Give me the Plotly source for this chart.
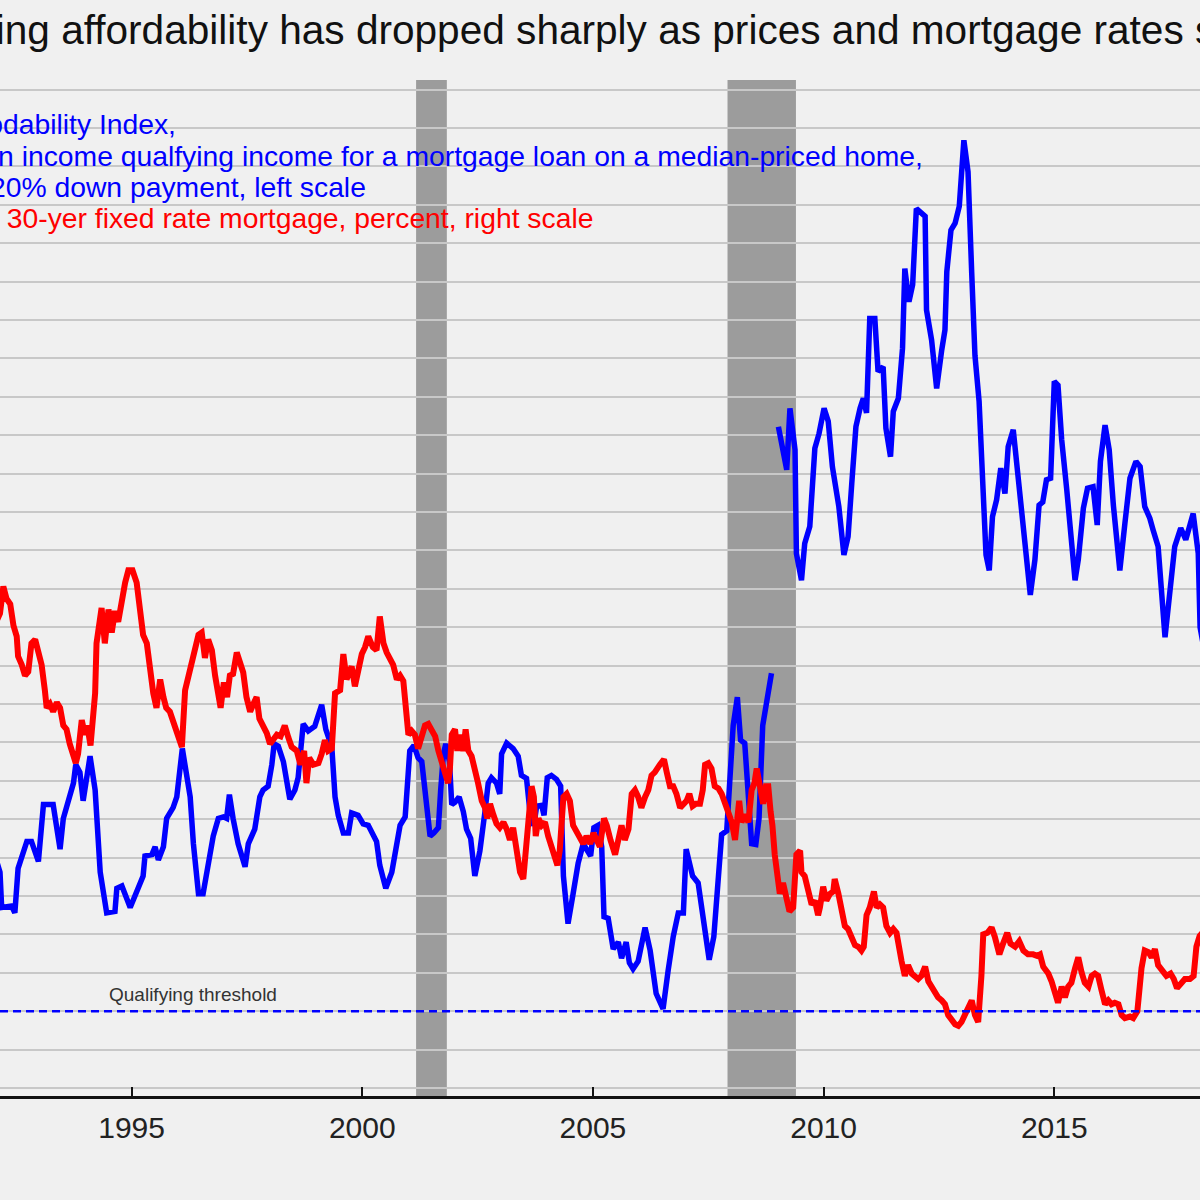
import plotly.graph_objects as go

# ---------------- data ----------------
# Housing affordability index (left scale); None marks the break in the series
afford_years = [
    1991.90, 1992.148, 1992.184, 1992.40, 1992.47, 1992.54, 1992.73, 1992.83, 1992.98, 1993.09,
    1993.30, 1993.45, 1993.52, 1993.66, 1993.74, 1993.79, 1993.88, 1993.95, 1994.10, 1994.21,
    1994.32, 1994.46, 1994.64, 1994.68, 1994.79, 1994.97, 1995.11, 1995.25, 1995.29, 1995.44,
    1995.51, 1995.58, 1995.69, 1995.76, 1995.90, 1995.98, 1996.10, 1996.27, 1996.34, 1996.45,
    1996.55, 1996.66, 1996.77, 1996.88, 1996.99, 1997.06, 1997.12, 1997.20, 1997.31, 1997.46,
    1997.53, 1997.67, 1997.78, 1997.85, 1997.96, 1998.04, 1998.09, 1998.18, 1998.29, 1998.43,
    1998.54, 1998.61, 1998.72, 1998.83, 1998.97, 1999.12, 1999.21, 1999.34, 1999.41, 1999.48,
    1999.59, 1999.70, 1999.77, 1999.91, 2000.02, 2000.13, 2000.24, 2000.31, 2000.38, 2000.51,
    2000.64, 2000.75, 2000.82, 2000.93, 2000.98, 2001.03, 2001.12, 2001.21, 2001.29, 2001.38,
    2001.47, 2001.55, 2001.65, 2001.70, 2001.76, 2001.81, 2001.89, 2001.94, 2002.01, 2002.10,
    2002.19, 2002.26, 2002.35, 2002.44, 2002.55, 2002.66, 2002.73, 2002.80, 2002.91, 2002.98,
    2003.02, 2003.13, 2003.27, 2003.38, 2003.45, 2003.56, 2003.65, 2003.72, 2003.78, 2003.89,
    2003.94, 2004.01, 2004.10, 2004.21, 2004.30, 2004.36, 2004.46, 2004.57, 2004.68, 2004.79,
    2004.90, 2004.95, 2005.02, 2005.11, 2005.19, 2005.24, 2005.33, 2005.44, 2005.55, 2005.62,
    2005.72, 2005.79, 2005.87, 2005.98, 2006.13, 2006.24, 2006.37, 2006.52, 2006.63, 2006.74,
    2006.85, 2006.96, 2007.02, 2007.16, 2007.28, 2007.39, 2007.52, 2007.62, 2007.72, 2007.79,
    2007.90, 2007.99, 2008.04, 2008.13, 2008.20, 2008.29, 2008.37, 2008.44, 2008.53, 2008.60,
    2008.68, 2008.76, 2008.87, 2008.95,
    2009.02, 2009.20, 2009.27, 2009.38, 2009.41, 2009.52, 2009.59, 2009.70, 2009.81, 2009.90,
    2010.01, 2010.10, 2010.19, 2010.33, 2010.44, 2010.53, 2010.61, 2010.70, 2010.79, 2010.86,
    2010.93, 2011.00, 2011.11, 2011.18, 2011.29, 2011.35, 2011.45, 2011.51, 2011.62, 2011.71,
    2011.76, 2011.85, 2011.93, 2012.01, 2012.20, 2012.23, 2012.34, 2012.45, 2012.56, 2012.63,
    2012.67, 2012.76, 2012.85, 2012.94, 2013.04, 2013.13, 2013.21, 2013.28, 2013.37, 2013.45,
    2013.52, 2013.59, 2013.66, 2013.75, 2013.84, 2013.93, 2014.00, 2014.11, 2014.22, 2014.33,
    2014.40, 2014.48, 2014.58, 2014.67, 2014.75, 2014.83, 2014.92, 2015.00, 2015.08, 2015.16,
    2015.27, 2015.37, 2015.45, 2015.52, 2015.63, 2015.72, 2015.84, 2015.93, 2016.00, 2016.10,
    2016.19, 2016.28, 2016.35, 2016.42, 2016.53, 2016.64, 2016.77, 2016.86, 2016.96, 2017.07,
    2017.14, 2017.25, 2017.40, 2017.61, 2017.74, 2017.85, 2018.01, 2018.12, 2018.16, 2018.25,
]
afford_index = [
    123.0, 118.1, 113.5, 113.7, 112.8, 118.6, 122.1, 122.1, 119.5, 126.9,
    126.9, 121.1, 125.1, 127.9, 129.7, 132.1, 131.1, 127.4, 133.2, 128.8,
    118.1, 112.8, 113.0, 116.0, 116.3, 113.5, 115.5, 117.6, 120.2, 120.4,
    121.4, 119.7, 121.4, 125.1, 126.5, 127.9, 134.2, 127.9, 121.8, 115.3,
    115.3, 118.8, 122.8, 125.1, 125.3, 125.1, 128.2, 125.1, 121.8, 118.8,
    121.8, 123.7, 127.9, 128.8, 129.3, 132.1, 134.8, 134.5, 132.5, 127.6,
    128.8, 130.4, 137.4, 136.5, 137.1, 139.9, 136.7, 134.4, 127.9, 125.5,
    123.2, 123.2, 125.8, 125.5, 124.4, 124.2, 122.8, 122.1, 119.0, 116.0,
    118.1, 121.4, 124.2, 125.3, 128.8, 133.9, 134.6, 133.0, 132.5, 127.9,
    122.8, 123.2, 123.9, 128.8, 133.5, 134.8, 132.5, 126.9, 127.2, 127.9,
    126.0, 123.7, 122.5, 117.6, 120.9, 126.0, 129.7, 130.4, 129.7, 128.3,
    133.5, 134.9, 134.2, 133.2, 130.7, 130.3, 125.1, 124.2, 126.7, 126.8,
    125.5, 130.4, 130.7, 130.2, 129.3, 117.6, 111.4, 115.3, 119.3, 121.8,
    120.7, 120.2, 123.9, 124.2, 121.4, 112.3, 112.1, 108.1, 109.0, 106.9,
    109.0, 106.3, 105.5, 106.5, 110.9, 107.9, 102.3, 100.3, 105.3, 109.7,
    112.8, 112.8, 121.1, 117.6, 116.7, 112.5, 106.7, 109.7, 116.7, 123.0,
    123.5, 134.4, 137.2, 140.9, 135.3, 134.9, 127.9, 121.8, 121.7, 125.1,
    137.2, 140.4, 144.0, None,
    176.1, 170.5, 178.5, 173.1, 159.6, 156.1, 160.9, 163.1, 173.3, 175.2,
    178.5, 176.8, 170.9, 165.7, 159.4, 161.8, 168.7, 176.1, 178.5, 179.8,
    177.9, 190.2, 190.2, 183.3, 183.9, 175.9, 172.2, 178.1, 179.8, 186.3,
    196.7, 192.4, 194.6, 204.5, 203.5, 191.3, 187.4, 181.1, 186.1, 188.7,
    196.3, 201.7, 202.6, 204.8, 213.4, 209.3, 196.1, 185.4, 179.4, 166.8,
    159.4, 157.4, 164.4, 166.6, 170.7, 167.4, 173.5, 175.7, 169.6, 164.0,
    158.8, 154.2, 158.8, 165.9, 166.3, 169.2, 169.4, 182.0, 181.5, 174.4,
    167.9, 160.1, 156.1, 158.8, 165.5, 168.1, 168.3, 163.3, 171.6, 176.3,
    173.1, 165.9, 161.4, 157.4, 163.5, 169.4, 171.6, 170.9, 165.7, 164.2,
    162.7, 160.5, 148.7, 160.5, 162.9, 161.4, 164.8, 159.6, 150.0, 147.0,
]

# 30-year fixed mortgage rate, percent (right scale)
rate_years = [
    1992.05, 1992.148, 1992.22, 1992.29, 1992.37, 1992.44, 1992.51, 1992.54, 1992.62, 1992.69,
    1992.76, 1992.83, 1992.91, 1992.98, 1993.05, 1993.12, 1993.16, 1993.23, 1993.30, 1993.38,
    1993.45, 1993.52, 1993.59, 1993.66, 1993.74, 1993.79, 1993.84, 1993.88, 1993.92, 1993.99,
    1994.04, 1994.11, 1994.17, 1994.21, 1994.24, 1994.28, 1994.35, 1994.42, 1994.50, 1994.57,
    1994.64, 1994.71, 1994.79, 1994.86, 1994.93, 1995.02, 1995.11, 1995.18, 1995.25, 1995.33,
    1995.40, 1995.47, 1995.54, 1995.62, 1995.69, 1995.75, 1995.83, 1995.91, 1995.98, 1996.09,
    1996.16, 1996.23, 1996.30, 1996.37, 1996.45, 1996.52, 1996.59, 1996.66, 1996.74, 1996.81,
    1996.88, 1996.93, 1997.00, 1997.07, 1997.13, 1997.20, 1997.28, 1997.35, 1997.42, 1997.49,
    1997.57, 1997.64, 1997.71, 1997.77, 1997.85, 1997.93, 1998.00, 1998.07, 1998.15, 1998.23,
    1998.32, 1998.40, 1998.47, 1998.58, 1998.66, 1998.74, 1998.79, 1998.85, 1998.94, 1999.05,
    1999.12, 1999.19, 1999.26, 1999.34, 1999.41, 1999.52, 1999.59, 1999.66, 1999.77, 1999.84,
    1999.91, 1999.99, 2000.06, 2000.13, 2000.23, 2000.31, 2000.38, 2000.46, 2000.53, 2000.60,
    2000.67, 2000.75, 2000.82, 2000.89, 2000.96, 2001.00, 2001.07, 2001.14, 2001.21, 2001.29,
    2001.36, 2001.43, 2001.50, 2001.58, 2001.65, 2001.72, 2001.79, 2001.86, 2001.90, 2001.94,
    2002.01, 2002.06, 2002.12, 2002.19, 2002.24, 2002.30, 2002.37, 2002.44, 2002.51, 2002.59,
    2002.66, 2002.71, 2002.77, 2002.84, 2002.91, 2002.98, 2003.06, 2003.13, 2003.20, 2003.27,
    2003.35, 2003.42, 2003.49, 2003.55, 2003.60, 2003.67, 2003.72, 2003.76, 2003.82, 2003.89,
    2003.96, 2004.03, 2004.10, 2004.18, 2004.23, 2004.28, 2004.36, 2004.43, 2004.50, 2004.57,
    2004.65, 2004.72, 2004.79, 2004.86, 2004.94, 2005.01, 2005.08, 2005.15, 2005.24, 2005.30,
    2005.38, 2005.48, 2005.55, 2005.62, 2005.69, 2005.77, 2005.84, 2005.91, 2005.98, 2006.05,
    2006.13, 2006.20, 2006.27, 2006.34, 2006.45, 2006.54, 2006.60, 2006.67, 2006.74, 2006.81,
    2006.89, 2006.96, 2007.03, 2007.09, 2007.16, 2007.23, 2007.32, 2007.38, 2007.43, 2007.50,
    2007.57, 2007.64, 2007.72, 2007.79, 2007.86, 2007.93, 2008.01, 2008.08, 2008.11, 2008.17,
    2008.22, 2008.29, 2008.37, 2008.44, 2008.50, 2008.55, 2008.62, 2008.69, 2008.75, 2008.80,
    2008.85, 2008.89, 2008.94, 2008.99, 2009.05, 2009.12, 2009.20, 2009.26, 2009.34, 2009.41,
    2009.49, 2009.52, 2009.59, 2009.67, 2009.74, 2009.81, 2009.88, 2009.92, 2009.99, 2010.06,
    2010.14, 2010.21, 2010.24, 2010.32, 2010.39, 2010.46, 2010.53, 2010.61, 2010.68, 2010.75,
    2010.82, 2010.87, 2010.93, 2011.00, 2011.09, 2011.15, 2011.22, 2011.29, 2011.36, 2011.44,
    2011.51, 2011.58, 2011.62, 2011.69, 2011.76, 2011.83, 2011.91, 2011.98, 2012.05, 2012.12,
    2012.20, 2012.27, 2012.34, 2012.41, 2012.48, 2012.56, 2012.63, 2012.70, 2012.77, 2012.85,
    2012.92, 2012.99, 2013.06, 2013.13, 2013.21, 2013.28, 2013.35, 2013.42, 2013.46, 2013.55,
    2013.64, 2013.71, 2013.81, 2013.89, 2013.98, 2014.05, 2014.15, 2014.24, 2014.33, 2014.43,
    2014.54, 2014.63, 2014.69, 2014.76, 2014.87, 2014.94, 2015.01, 2015.08, 2015.16, 2015.23,
    2015.30, 2015.37, 2015.45, 2015.52, 2015.59, 2015.66, 2015.74, 2015.81, 2015.88, 2015.95,
    2016.02, 2016.10, 2016.17, 2016.24, 2016.31, 2016.39, 2016.46, 2016.53, 2016.64, 2016.71,
    2016.80, 2016.84, 2016.89, 2016.96, 2017.04, 2017.11, 2017.18, 2017.25, 2017.35, 2017.43,
    2017.52, 2017.59, 2017.66, 2017.74, 2017.83, 2017.94, 2018.02, 2018.08, 2018.15, 2018.25,
]
rate_pct = [
    8.55, 8.68, 9.03, 8.87, 8.80, 8.52, 8.38, 8.12, 8.01, 7.87,
    7.92, 8.29, 8.34, 8.20, 8.01, 7.68, 7.45, 7.50, 7.40, 7.52,
    7.45, 7.22, 7.17, 6.98, 6.80, 6.73, 6.85, 7.12, 7.29, 7.10,
    7.22, 6.96, 7.40, 7.64, 8.29, 8.45, 8.75, 8.29, 8.73, 8.43,
    8.71, 8.57, 8.90, 9.08, 9.24, 9.24, 9.08, 8.73, 8.40, 8.29,
    7.91, 7.64, 7.45, 7.82, 7.59, 7.45, 7.40, 7.26, 7.10, 6.94,
    7.68, 7.87, 8.06, 8.20, 8.40, 8.43, 8.10, 8.34, 8.20, 7.87,
    7.64, 7.45, 7.78, 7.59, 7.87, 7.89, 8.17, 8.06, 7.91, 7.59,
    7.40, 7.50, 7.59, 7.31, 7.22, 7.12, 6.98, 7.03, 7.10, 7.08,
    7.22, 7.06, 6.94, 6.89, 6.71, 6.89, 6.47, 6.80, 6.71, 6.73,
    6.85, 7.03, 6.89, 6.92, 7.64, 7.68, 8.15, 7.82, 7.99, 7.73,
    7.92, 8.15, 8.24, 8.38, 8.24, 8.20, 8.64, 8.29, 8.17, 8.10,
    8.01, 7.82, 7.87, 7.80, 7.45, 7.10, 7.15, 7.10, 6.92, 7.12,
    7.22, 7.24, 7.15, 7.08, 6.89, 6.75, 6.61, 6.47, 6.66, 7.10,
    7.17, 6.89, 7.10, 6.89, 7.17, 6.89, 6.82, 6.66, 6.47, 6.24,
    6.15, 6.01, 6.20, 6.06, 5.94, 5.89, 5.96, 5.87, 5.73, 5.89,
    5.54, 5.31, 5.22, 5.54, 5.96, 6.43, 6.29, 5.78, 6.01, 5.92,
    5.96, 5.78, 5.64, 5.54, 5.40, 5.59, 6.29, 6.33, 6.24, 5.92,
    5.82, 5.73, 5.68, 5.78, 5.68, 5.82, 5.73, 5.64, 6.01, 5.92,
    5.73, 5.54, 5.73, 5.92, 5.73, 5.87, 6.33, 6.38, 6.29, 6.15,
    6.29, 6.38, 6.57, 6.61, 6.71, 6.78, 6.61, 6.43, 6.43, 6.33,
    6.15, 6.20, 6.24, 6.33, 6.17, 6.20, 6.20, 6.38, 6.71, 6.73,
    6.66, 6.43, 6.40, 6.33, 6.20, 6.06, 5.96, 5.73, 5.92, 6.24,
    5.96, 6.06, 5.96, 6.38, 6.47, 6.66, 6.43, 6.20, 6.43, 6.43,
    6.10, 5.92, 5.54, 5.22, 5.03, 5.17, 4.99, 4.80, 4.85, 5.54,
    5.59, 5.31, 5.26, 5.03, 4.89, 4.94, 4.75, 4.85, 5.12, 4.94,
    5.03, 5.06, 5.22, 5.03, 4.80, 4.61, 4.57, 4.43, 4.36, 4.34,
    4.29, 4.34, 4.75, 4.85, 5.06, 4.85, 4.89, 4.85, 4.61, 4.52,
    4.57, 4.52, 4.34, 4.15, 3.96, 4.10, 3.99, 3.96, 3.92, 3.96,
    4.08, 3.89, 3.82, 3.73, 3.68, 3.64, 3.59, 3.45, 3.38, 3.33,
    3.31, 3.36, 3.45, 3.55, 3.64, 3.45, 3.36, 3.96, 4.50, 4.52,
    4.59, 4.47, 4.24, 4.38, 4.52, 4.38, 4.34, 4.41, 4.29, 4.24,
    4.24, 4.22, 4.24, 4.08, 3.99, 3.89, 3.73, 3.61, 3.82, 3.68,
    3.82, 3.87, 4.06, 4.20, 4.01, 3.87, 3.82, 3.96, 3.99, 3.96,
    3.78, 3.59, 3.64, 3.59, 3.61, 3.59, 3.45, 3.41, 3.43, 3.41,
    3.50, 3.82, 4.06, 4.29, 4.27, 4.20, 4.31, 4.10, 4.01, 3.96,
    3.99, 3.92, 3.80, 3.87, 3.92, 3.92, 3.96, 4.34, 4.48, 4.55,
]

tick_years = [1995, 2000, 2005, 2010, 2015, 2020]
tick_labels = ["1995", "2000", "2005", "2010", "2015", "2020"]
recession_starts = [2001.167, 2007.917]
recession_ends = [2001.833, 2009.40]
qualifying_threshold = 100

title_text = "Housing affordability has dropped sharply as prices and mortgage rates soared"
legend_lines = [
    "Housing Affodability Index,",
    "Median income qualfying income for a mortgage loan on a median-priced home,",
    "assuming 20% down payment, left scale",
    "Average 30-yer fixed rate mortgage, percent, right scale",
]

# ---------------- figure ----------------
W, H = 1200, 1200
M_T, M_B = 80, 104
PLOT_H = H - M_T - M_B
BG = "#f0f0f0"


def px_x(px):
    return px / W


def px_y(py):
    return (H - M_B - py) / PLOT_H


FONT = "Liberation Sans, Arial, sans-serif"

fig = go.Figure()

fig.add_trace(go.Scatter(
    x=afford_years, y=afford_index, mode="lines",
    line=dict(color="#0000ff", width=5.5), connectgaps=False,
    yaxis="y", showlegend=False, hoverinfo="skip",
))
fig.add_trace(go.Scatter(
    x=rate_years, y=rate_pct, mode="lines",
    line=dict(color="#ff0000", width=6), yaxis="y2",
    showlegend=False, hoverinfo="skip",
))

shapes = []
for x0, x1 in zip(recession_starts, recession_ends):
    shapes.append(dict(type="rect", xref="x", yref="paper", x0=x0, x1=x1, y0=0, y1=1,
                       fillcolor="rgb(100,100,100)", opacity=0.6, line=dict(width=0),
                       layer="between"))
shapes.append(dict(type="line", xref="paper", yref="y", x0=0, x1=1,
                   y0=qualifying_threshold, y1=qualifying_threshold,
                   line=dict(color="#0000ff", width=2.5, dash="8px,5px"), layer="above"))

annotations = [
    dict(text=title_text, xref="paper", yref="paper", x=px_x(-101), y=px_y(30),
         xanchor="left", yanchor="middle", showarrow=False,
         font=dict(family=FONT, size=40.6, color="#111111")),
    dict(text="Qualifying threshold", xref="paper", yref="paper", x=px_x(193), y=px_y(994),
         xanchor="center", yanchor="middle", showarrow=False,
         font=dict(family=FONT, size=19, color="#333333")),
]
legend_ends = [178, 925, 368, 595]
legend_centers = [124, 156, 187, 218]
legend_colors = ["#0000ff", "#0000ff", "#0000ff", "#ff0000"]
for txt, xe, yc, col in zip(legend_lines, legend_ends, legend_centers, legend_colors):
    annotations.append(dict(text=txt, xref="paper", yref="paper", x=px_x(xe), y=px_y(yc),
                            xanchor="right", yanchor="middle", showarrow=False,
                            font=dict(family=FONT, size=28.3, color=col)))

fig.update_layout(
    width=W, height=H,
    margin=dict(l=0, r=0, t=M_T, b=M_B, pad=0),
    paper_bgcolor=BG, plot_bgcolor=BG,
    showlegend=False,
    font=dict(family=FONT),
    xaxis=dict(range=[1992.148, 2018.158], tickvals=tick_years, ticktext=tick_labels,
               ticks="inside", ticklen=9, tickwidth=2, tickcolor="#111111",
               showline=True, linecolor="#111111", linewidth=3,
               showgrid=False, zeroline=False, ticklabelstandoff=3,
               tickfont=dict(family=FONT, size=30, color="#222222")),
    yaxis=dict(range=[88.958, 221.25], tick0=90, dtick=5, showgrid=True,
               gridcolor="#c8c8c8", gridwidth=1.5, showticklabels=False,
               ticks="", zeroline=False, showline=False),
    yaxis2=dict(range=[2.3958, 15.625], overlaying="y", side="right",
                showgrid=False, showticklabels=False, ticks="", zeroline=False,
                showline=False),
    shapes=shapes,
    annotations=annotations,
)

# remove the browser's default 8px page margin so the figure fills the window
fig.write_html(
    "out.html",
    config={"displayModeBar": False},
    post_script="document.body.style.margin='0';document.body.style.background='%s';" % BG,
)
